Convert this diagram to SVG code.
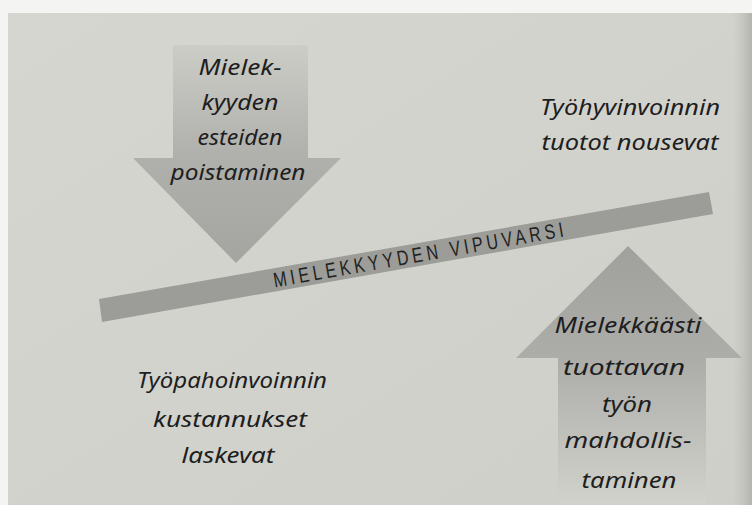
<svg xmlns="http://www.w3.org/2000/svg" width="752" height="505" viewBox="0 0 752 505">
  <defs>
    <linearGradient id="pageGrad" x1="0" y1="0" x2="1" y2="1">
      <stop offset="0" stop-color="#d6d6d1"/>
      <stop offset="1" stop-color="#cfcfca"/>
    </linearGradient>
    <linearGradient id="edgeGrad" x1="0" y1="0" x2="1" y2="0">
      <stop offset="0" stop-color="#c4c4be" stop-opacity="0"/>
      <stop offset="1" stop-color="#b4b4ae" stop-opacity="1"/>
    </linearGradient>
    <linearGradient id="downGrad" gradientUnits="userSpaceOnUse" x1="0" y1="45" x2="0" y2="263">
      <stop offset="0" stop-color="#cdcdc8"/>
      <stop offset="0.5" stop-color="#b0b0ac"/>
      <stop offset="1" stop-color="#a4a4a0"/>
    </linearGradient>
    <linearGradient id="upGrad" gradientUnits="userSpaceOnUse" x1="0" y1="246" x2="0" y2="505">
      <stop offset="0" stop-color="#a0a09c"/>
      <stop offset="0.45" stop-color="#adada9"/>
      <stop offset="1" stop-color="#d2d2cd"/>
    </linearGradient>
    <style>
      .label { font-family: "Noto Sans", "Open Sans", sans-serif; font-style: italic; font-size: 22px; fill: #1e1e1e; text-anchor: middle; }
      .lever-label { font-family: "Liberation Sans", "DejaVu Sans", sans-serif; font-size: 21px; fill: #222222; text-anchor: middle; }
    </style>
  </defs>

  <rect x="0" y="0" width="752" height="505" fill="#f4f4f2"/>
  <rect x="8" y="13" width="744" height="492" fill="url(#pageGrad)"/>
  <rect x="732" y="13" width="20" height="492" fill="url(#edgeGrad)"/>

  <g id="lever">
    <polygon points="99,299 709,192 713,214 102,322" fill="#9c9c98"/>
    <text class="lever-label" transform="translate(419.5,262) rotate(-9.95) scale(0.76,1)" x="0" y="0" textLength="387" lengthAdjust="spacing">MIELEKKYYDEN VIPUVARSI</text>
  </g>

  <g id="down-arrow">
    <polygon points="173,45 308,45 308,158 341,158 236,263 133,158 173,158" fill="url(#downGrad)"/>
    <text class="label" x="240" y="75" textLength="83" lengthAdjust="spacingAndGlyphs">Mielek-</text>
    <text class="label" x="240" y="110" textLength="77" lengthAdjust="spacingAndGlyphs">kyyden</text>
    <text class="label" x="240" y="145" textLength="85" lengthAdjust="spacingAndGlyphs">esteiden</text>
    <text class="label" x="238" y="180" textLength="135" lengthAdjust="spacingAndGlyphs">poistaminen</text>
  </g>

  <g id="up-arrow">
    <polygon points="628,246 742,358 706,358 706,505 558,505 558,358 516,358" fill="url(#upGrad)"/>
    <text class="label" x="628" y="333" textLength="147" lengthAdjust="spacingAndGlyphs">Mielekkäästi</text>
    <text class="label" x="624" y="375" textLength="122" lengthAdjust="spacingAndGlyphs">tuottavan</text>
    <text class="label" x="627" y="412" textLength="50" lengthAdjust="spacingAndGlyphs">työn</text>
    <text class="label" x="628" y="448" textLength="127" lengthAdjust="spacingAndGlyphs">mahdollis-</text>
    <text class="label" x="629" y="488" textLength="95" lengthAdjust="spacingAndGlyphs">taminen</text>
  </g>

  <g id="benefits">
    <text class="label" x="630" y="115" textLength="180" lengthAdjust="spacingAndGlyphs">Työhyvinvoinnin</text>
    <text class="label" x="630" y="150" textLength="177" lengthAdjust="spacingAndGlyphs">tuotot nousevat</text>
  </g>

  <g id="costs">
    <text class="label" x="232" y="388" textLength="190" lengthAdjust="spacingAndGlyphs">Työpahoinvoinnin</text>
    <text class="label" x="230" y="427" textLength="154" lengthAdjust="spacingAndGlyphs">kustannukset</text>
    <text class="label" x="228" y="463" textLength="93" lengthAdjust="spacingAndGlyphs">laskevat</text>
  </g>

  <g id="connectors"/>
</svg>
